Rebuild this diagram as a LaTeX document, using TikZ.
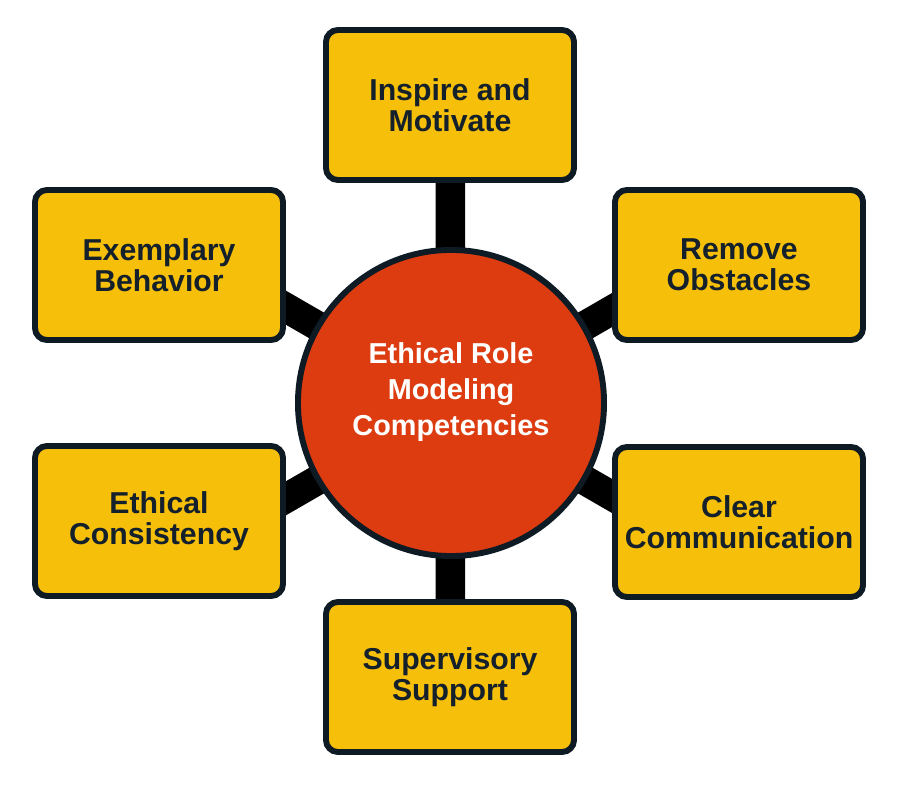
\documentclass[tikz,border=0pt]{standalone}
\usepackage{fontspec}
\setmainfont{Liberation Sans}
\usepackage{tikz}
\usetikzlibrary{calc,backgrounds}
\definecolor{boxfill}{HTML}{F6BF0A}
\definecolor{hubfill}{HTML}{DC3C10}
\definecolor{edge}{HTML}{0E1A24}
\definecolor{ink}{HTML}{14202B}
\tikzset{
  box/.style={draw=edge, fill=boxfill, line width=4.2pt, rounded corners=0.3cm,
    minimum width=6.2cm, minimum height=3.75cm, align=center, text=ink,
    font=\fontsize{21.5}{22}\selectfont\bfseries},
  hub/.style={circle, draw=edge, fill=hubfill, line width=4.2pt, minimum size=7.65cm, inner sep=0pt},
  hublab/.style={align=center, text=white, font=\fontsize{20.5}{25.3}\selectfont\bfseries},
  link/.style={draw=black, line width=21pt},
}

\begin{document}
\begin{tikzpicture}[x=0.025cm, y=0.025cm]
  \useasboundingbox (0,0) rectangle (901,-788);

  % centre
  \node[hub] (hub) at (451,-403) {};
  \node[hublab] (hubtext) at (451,-392) {Ethical Role\\Modeling\\Competencies};

  % six competencies
  \node[box] (inspire)  at (450,-105) {Inspire and\\Motivate};
  \node[box] (exemplar) at (159,-265) {Exemplary\\Behavior};
  \node[box] (obstacle) at (739,-265) {Remove\\Obstacles};
  \node[box] (consist)  at (159,-521) {Ethical\\Consistency};
  \node[box] (clear)    at (739,-522) {Clear\\Communication};
  \node[box] (support)  at (450,-677) {Supervisory\\Support};

  % spokes, hidden under the boxes
  \coordinate (exemplarend) at ($(hub.center)+(150:260)$);
  \coordinate (obstacleend) at ($(hub.center)+(30:260)$);
  \coordinate (consistend)  at ($(hub.center)+(210:260)$);
  \coordinate (clearend)    at ($(hub.center)+(-30:260)$);
  \begin{scope}[on background layer]
    \draw[link] (hub.center) -- (inspire.center);
    \draw[link] (hub.center) -- (support.center);
    \draw[link] (hub.center) -- (exemplarend);
    \draw[link] (hub.center) -- (obstacleend);
    \draw[link] (hub.center) -- (consistend);
    \draw[link] (hub.center) -- (clearend);
  \end{scope}
\end{tikzpicture}
\end{document}
